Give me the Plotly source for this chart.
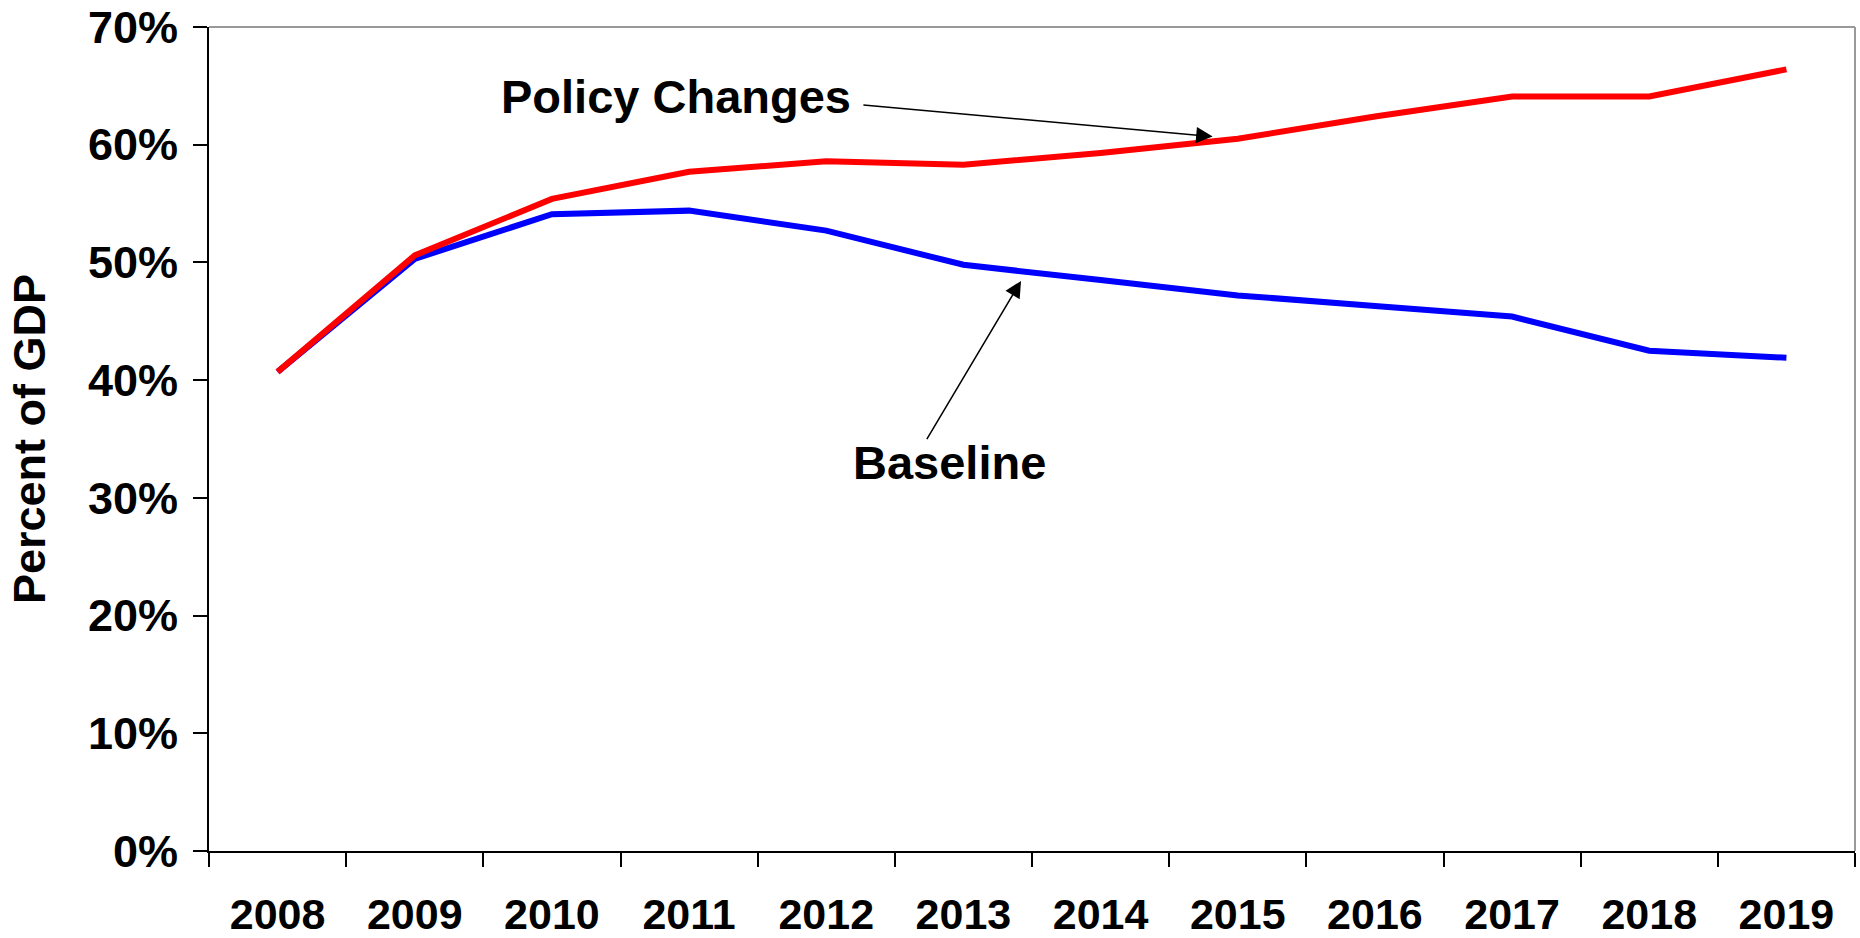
import plotly.graph_objects as go

# Debt held by the public, percent of GDP
years = ["2008", "2009", "2010", "2011", "2012", "2013",
         "2014", "2015", "2016", "2017", "2018", "2019"]
baseline = [40.7, 50.3, 54.1, 54.4, 52.7, 49.8, 48.5, 47.2, 46.3, 45.4, 42.5, 41.9]
policy_changes = [40.7, 50.6, 55.4, 57.7, 58.6, 58.3, 59.3, 60.5, 62.4, 64.1, 64.1, 66.4]
y_ticks = [0, 10, 20, 30, 40, 50, 60, 70]
y_tick_labels = ["0%", "10%", "20%", "30%", "40%", "50%", "60%", "70%"]

FONT = "Liberation Sans, Arial, sans-serif"

fig = go.Figure()
fig.add_trace(go.Scatter(x=years, y=baseline, mode="lines", name="Baseline",
                         line=dict(color="#0000ff", width=6)))
fig.add_trace(go.Scatter(x=years, y=policy_changes, mode="lines", name="Policy Changes",
                         line=dict(color="#ff0000", width=6)))

fig.update_layout(
    width=1860, height=938,
    margin=dict(l=209, r=5, t=27, b=87),
    paper_bgcolor="white", plot_bgcolor="white",
    showlegend=False,
    font=dict(family=FONT, color="black", size=44, weight="bold"),
)

fig.update_xaxes(
    type="category", range=[-0.5, 11.5], tickson="boundaries",
    showgrid=False, zeroline=False, automargin=False,
    showline=True, linecolor="black", linewidth=2,
    ticks="outside", ticklen=14, tickwidth=2, tickcolor="black",
    tickfont=dict(size=43, family=FONT, weight="bold"),
    ticklabelstandoff=24,
)
fig.update_yaxes(
    range=[0, 70], tickmode="array", tickvals=y_ticks, ticktext=y_tick_labels,
    showgrid=False, zeroline=False, automargin=False,
    showline=True, linecolor="black", linewidth=2,
    ticks="outside", ticklen=14, tickwidth=2, tickcolor="black",
    tickfont=dict(size=45, family=FONT, weight="bold"),
    ticklabelstandoff=6,
    title=dict(text="Percent of GDP", font=dict(size=45, family=FONT, weight="bold"), standoff=28),
)

# grey frame on the top and right of the plot area
fig.add_shape(type="line", xref="paper", yref="paper", x0=0, x1=1, y0=1, y1=1,
              line=dict(color="#999999", width=2))
fig.add_shape(type="line", xref="paper", yref="paper", x0=1, x1=1, y0=0, y1=1,
              line=dict(color="#999999", width=2))

# series labels with pointer arrows
fig.add_annotation(x=2.905, y=64.06, xref="x", yref="y", text="Policy Changes",
                   showarrow=False, font=dict(size=47, family=FONT, weight="bold"))
fig.add_annotation(x=6.817, y=60.69, ax=4.26, ay=63.38, xref="x", yref="y",
                   axref="x", ayref="y", text="", showarrow=True,
                   arrowhead=2, arrowsize=2.2, arrowwidth=1.5, arrowcolor="black")
fig.add_annotation(x=4.895, y=33.0, xref="x", yref="y", text="Baseline",
                   showarrow=False, font=dict(size=47, family=FONT, weight="bold"))
fig.add_annotation(x=5.42, y=48.43, ax=4.727, ay=34.86, xref="x", yref="y",
                   axref="x", ayref="y", text="", showarrow=True,
                   arrowhead=2, arrowsize=2.2, arrowwidth=1.5, arrowcolor="black")

fig.write_html("out.html")
